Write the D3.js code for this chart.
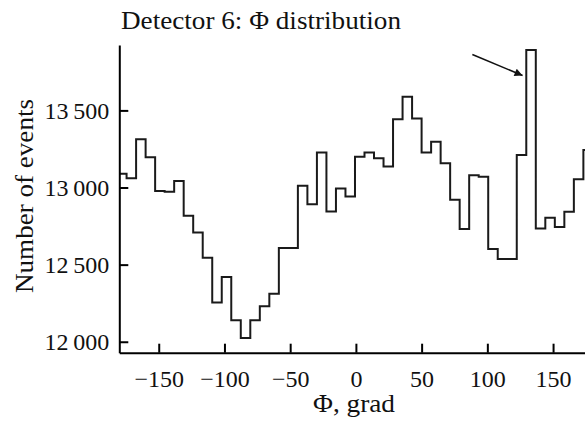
<!DOCTYPE html>
<html>
<head>
<meta charset="utf-8">
<script src="https://cdn.jsdelivr.net/npm/d3@7"></script>
<style>
  html, body { margin: 0; padding: 0; background: #fff; overflow: hidden; }
  text { font-family: "Liberation Serif", "Times New Roman", serif; fill: #111; }
</style>
</head>
<body>
<svg></svg>
<script>
var svgWidth = 585;
var svgHeight = 421;

/* histogram bins: Phi in degrees */
var binStart = -181.7;
var binWidth = 7.24;
var counts = [13090, 13060, 13313, 13196, 12978, 12972, 13043, 12817, 12709, 12545,
              12254, 12420, 12140, 12025, 12140, 12230, 12312, 12608, 12608, 13011,
              12892, 13227, 12845, 12994, 12942, 13200, 13227, 13190, 13136, 13443,
              13589, 13447, 13227, 13296, 13158, 12920, 12731, 13080, 13069, 12601,
              12537, 12537, 13210, 13891, 12735, 12804, 12744, 12843, 13054, 13244];

var xTicks = [-150, -100, -50, 0, 50, 100, 150];
var yTicks = [12000, 12500, 13000, 13500];

/* arrow pointing at the peak: [phi, events] */
var arrowFrom = [88.6, 13863];
var arrowTo = [126.8, 13726];

var titleText = 'Detector 6: \u03A6 distribution';
var xLabel = '\u03A6, grad';
var yLabel = 'Number of events';

var svg = d3.select('svg')
            .attr('width', svgWidth)
            .attr('height', svgHeight);

var x = d3.scaleLinear().domain([-180, 180]).range([119.3, 592.5]);
var y = d3.scaleLinear().domain([11929, 13924]).range([352.7, 45]);

/* thin space between thousands, real minus sign */
function fmtY(d){
    var s = String(d);
    return s.slice(0, s.length - 3) + '\u2009' + s.slice(s.length - 3);
}
function fmtX(d){
    return d < 0 ? '\u2212' + Math.abs(d) : String(d);
}

svg.append('defs').append('marker')
    .attr('id', 'head')
    .attr('viewBox', '0 0 10 10')
    .attr('refX', 10).attr('refY', 5)
    .attr('markerWidth', 12).attr('markerHeight', 8)
    .attr('markerUnits', 'userSpaceOnUse')
    .attr('orient', 'auto')
    .append('path')
    .attr('d', 'M0,0 L10,5 L0,10 z')
    .style('fill', '#111');

svg.append('clipPath').attr('id', 'plot')
    .append('rect')
    .attr('x', x(-180)).attr('y', 0)
    .attr('width', svgWidth).attr('height', y.range()[0]);

/* step histogram */
var pts = counts.map((c, i) => [binStart + i * binWidth, c]);
pts.push([binStart + counts.length * binWidth, counts[counts.length - 1]]);

var line = d3.line()
            .x(d => x(d[0]))
            .y(d => y(d[1]))
            .curve(d3.curveStepAfter);

svg.append('path')
    .datum(pts)
    .attr('clip-path', 'url(#plot)')
    .attr('d', line)
    .style('fill', 'none')
    .style('stroke', '#1a1a1a')
    .style('stroke-width', 2);

/* axes */
var xAxis = d3.axisBottom(x).tickValues(xTicks).tickSizeInner(-9).tickSizeOuter(0).tickFormat(fmtX);
var yAxis = d3.axisLeft(y).tickValues(yTicks).tickSizeInner(-9).tickSizeOuter(0).tickFormat(fmtY);

var gx = svg.append('g')
            .attr('transform', `translate(0,${y.range()[0]})`)
            .call(xAxis);
var gy = svg.append('g')
            .attr('transform', `translate(${x(-180)},0)`)
            .call(yAxis);

[gx, gy].forEach(g => {
    g.select('.domain').style('stroke', '#000').style('stroke-width', 2);
    g.selectAll('.tick line').style('stroke', '#000').style('stroke-width', 2);
    g.selectAll('text')
        .style('font-family', '"Liberation Serif", serif')
        .style('font-size', '24px')
        .style('fill', '#111');
});

gx.selectAll('text').attr('y', 17).attr('dy', '0.71em');
gy.selectAll('text').attr('x', -10);

/* arrow */
svg.append('line')
    .attr('x1', x(arrowFrom[0])).attr('y1', y(arrowFrom[1]))
    .attr('x2', x(arrowTo[0])).attr('y2', y(arrowTo[1]))
    .attr('marker-end', 'url(#head)')
    .style('stroke', '#111')
    .style('stroke-width', 1.6);

/* labels: the original face is a bit wider than Times, stretch spacing */
svg.append('text')
    .text(titleText)
    .attr('x', 121)
    .attr('y', 29)
    .attr('textLength', 280)
    .attr('lengthAdjust', 'spacingAndGlyphs')
    .style('font-size', '25px');

svg.append('text')
    .text(xLabel)
    .attr('x', 354)
    .attr('y', 412)
    .attr('text-anchor', 'middle')
    .attr('textLength', 82)
    .attr('lengthAdjust', 'spacingAndGlyphs')
    .style('font-size', '25px');

svg.append('text')
    .text(yLabel)
    .attr('transform', 'translate(33,196) rotate(-90)')
    .attr('text-anchor', 'middle')
    .attr('textLength', 194)
    .attr('lengthAdjust', 'spacingAndGlyphs')
    .style('font-size', '25px');
</script>
</body>
</html>
